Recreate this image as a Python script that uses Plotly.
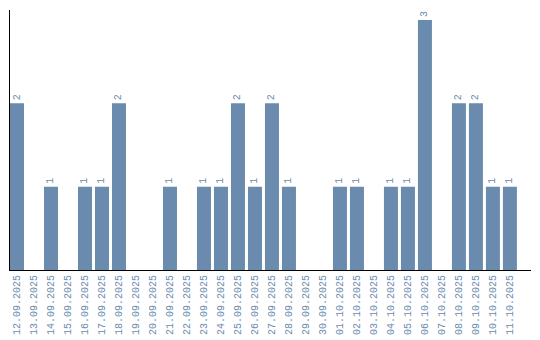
import plotly.graph_objects as go

dates = ["12.09.2025", "13.09.2025", "14.09.2025", "15.09.2025", "16.09.2025",
         "17.09.2025", "18.09.2025", "19.09.2025", "20.09.2025", "21.09.2025",
         "22.09.2025", "23.09.2025", "24.09.2025", "25.09.2025", "26.09.2025",
         "27.09.2025", "28.09.2025", "29.09.2025", "30.09.2025", "01.10.2025",
         "02.10.2025", "03.10.2025", "04.10.2025", "05.10.2025", "06.10.2025",
         "07.10.2025", "08.10.2025", "09.10.2025", "10.10.2025", "11.10.2025"]
counts = [2, 0, 1, 0, 1, 1, 2, 0, 0, 1, 0, 1, 1, 2, 1, 2, 1, 0, 0, 1,
          1, 0, 1, 1, 3, 0, 2, 2, 1, 1]

labels = [str(v) if v > 0 else "" for v in counts]

color = "#6a8bad"
font_family = "Liberation Mono"

fig = go.Figure(go.Bar(
    x=dates, y=counts, text=labels, textposition="outside",
    textangle=-90, cliponaxis=False,
    textfont=dict(family=font_family, size=10, color=color),
    marker=dict(color=color, line=dict(width=0)),
))

fig.update_layout(
    width=540, height=340,
    margin=dict(l=10, r=9, t=10, b=70),
    paper_bgcolor="white", plot_bgcolor="white",
    bargap=3 / 17, showlegend=False,
    xaxis=dict(type="category", tickangle=-90, showline=True, linecolor="black",
               linewidth=1, ticks="", showgrid=False, automargin=False,
               range=[-0.5 + 1.5 / 17, 30.24],
               tickfont=dict(family=font_family, size=10, color=color)),
    yaxis=dict(range=[0, 3.12], showline=True, linecolor="black", linewidth=1,
               showticklabels=False, ticks="", showgrid=False, zeroline=False,
               automargin=False),
)

fig.write_html("out.html")
